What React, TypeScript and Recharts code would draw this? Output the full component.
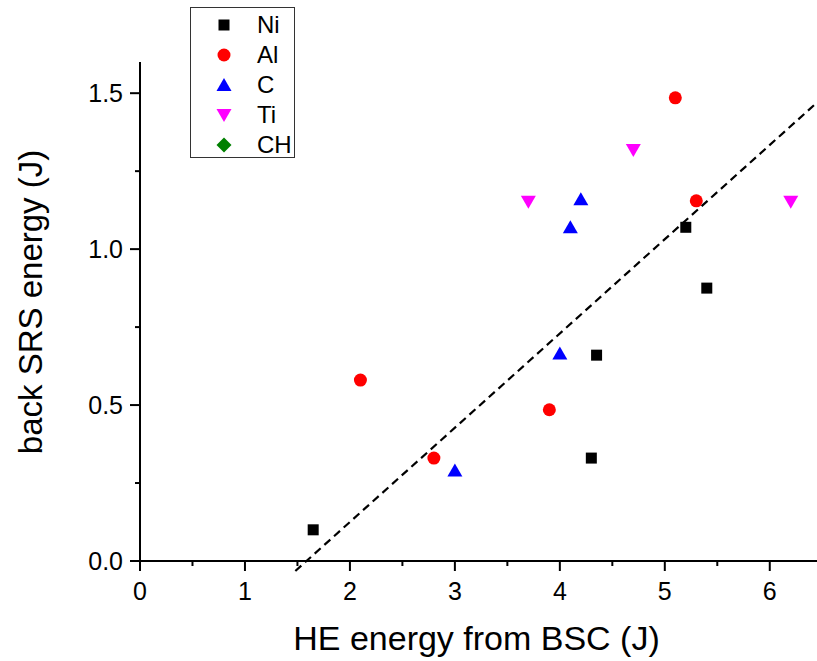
import { ScatterChart, Scatter, XAxis, YAxis, ReferenceLine } from "recharts";

// HE energy (x) vs back SRS energy (y), per target material
const niX = [1.65, 4.3, 4.35, 5.2, 5.4];
const niY = [0.1, 0.33, 0.66, 1.07, 0.875];
const alX = [2.1, 2.8, 3.9, 5.1, 5.3];
const alY = [0.58, 0.33, 0.485, 1.485, 1.155];
const cX = [3.0, 4.0, 4.1, 4.2];
const cY = [0.29, 0.665, 1.07, 1.16];
const tiX = [3.7, 4.7, 6.2];
const tiY = [1.152, 1.318, 1.152];
const chX: number[] = [];
const chY: number[] = [];

const xTicks = [0, 0.5, 1, 1.5, 2, 2.5, 3, 3.5, 4, 4.5, 5, 5.5, 6];
const yTicks = [0, 0.25, 0.5, 0.75, 1, 1.25, 1.5];
const fitStart = { x: 1.48, y: -0.032 };
const fitEnd = { x: 6.45, y: 1.47 };

const zip = (xs: number[], ys: number[]) => xs.map((x, i) => ({ x, y: ys[i] }));

const FONT = '"Liberation Sans", Arial, sans-serif';

const series = [
  { name: "Ni", data: zip(niX, niY), color: "#000000", kind: "square" },
  { name: "Al", data: zip(alX, alY), color: "#ff0000", kind: "circle" },
  { name: "C", data: zip(cX, cY), color: "#0000ff", kind: "up" },
  { name: "Ti", data: zip(tiX, tiY), color: "#ff00ff", kind: "down" },
  { name: "CH", data: zip(chX, chY), color: "#008000", kind: "diamond" },
];

function Marker({ kind, cx, cy, color }: { kind: string; cx: number; cy: number; color: string }) {
  if (kind === "square") return <rect x={cx - 5.5} y={cy - 5.5} width={11} height={11} fill={color} />;
  if (kind === "circle") return <circle cx={cx} cy={cy} r={6.5} fill={color} />;
  if (kind === "up") return <polygon points={`${cx - 7.5},${cy + 6} ${cx + 7.5},${cy + 6} ${cx},${cy - 7}`} fill={color} />;
  if (kind === "down") return <polygon points={`${cx - 7.5},${cy - 6} ${cx + 7.5},${cy - 6} ${cx},${cy + 7}`} fill={color} />;
  return <polygon points={`${cx},${cy - 7.5} ${cx + 7.5},${cy} ${cx},${cy + 7.5} ${cx - 7.5},${cy}`} fill={color} />;
}

function XTick(props: any) {
  const { x, y, payload } = props;
  const major = Number.isInteger(payload.value);
  return (
    <g>
      <line x1={x} x2={x} y1={y} y2={y + (major ? 10 : 5)} stroke="#000" strokeWidth={2} />
      {major && (
        <text x={x} y={y + 38.5} textAnchor="middle" fontSize={25} fontFamily={FONT} fill="#000">
          {payload.value}
        </text>
      )}
    </g>
  );
}

function YTick(props: any) {
  const { x, y, payload } = props;
  const major = Math.abs(payload.value * 2 - Math.round(payload.value * 2)) < 1e-6;
  return (
    <g>
      <line x1={x} x2={x - (major ? 10 : 5)} y1={y} y2={y} stroke="#000" strokeWidth={2} />
      {major && (
        <text x={x - 17} y={y} dy="0.36em" textAnchor="end" fontSize={25} fontFamily={FONT} fill="#000">
          {payload.value.toFixed(1)}
        </text>
      )}
    </g>
  );
}

export default function App() {
  return (
    <div style={{ position: "absolute", left: 0, top: 0, width: 817, height: 661, background: "#fff", fontFamily: FONT }}>
      <ScatterChart width={817} height={661} margin={{ top: 62, right: 0, bottom: 99, left: 139 }}>
        <XAxis
          type="number"
          dataKey="x"
          domain={[0, 6.45]}
          allowDataOverflow
          ticks={xTicks}
          interval={0}
          height={1}
          tickSize={0}
          tickMargin={0}
          tick={<XTick />}
          axisLine={{ stroke: "#000", strokeWidth: 2 }}
          tickLine={false}
        />
        <YAxis
          type="number"
          dataKey="y"
          domain={[0, 1.6]}
          allowDataOverflow
          ticks={yTicks}
          interval={0}
          width={1}
          tickSize={0}
          tickMargin={0}
          tick={<YTick />}
          axisLine={{ stroke: "#000", strokeWidth: 2 }}
          tickLine={false}
        />
        <ReferenceLine
          segment={[fitStart, fitEnd]}
          ifOverflow="visible"
          stroke="#000"
          strokeWidth={2.2}
          strokeDasharray="8 5"
        />
        {series.map((s) => (
          <Scatter
            key={s.name}
            name={s.name}
            data={s.data}
            fill={s.color}
            isAnimationActive={false}
            shape={(p: any) => <Marker kind={s.kind} cx={p.cx} cy={p.cy} color={s.color} />}
          />
        ))}
      </ScatterChart>

      <div
        style={{
          position: "absolute",
          left: 190,
          top: 7,
          width: 105,
          height: 151,
          border: "1px solid #333",
          boxSizing: "border-box",
        }}
      >
        {series.map((s, i) => (
          <div key={s.name} style={{ position: "absolute", left: 0, top: 2 + i * 30, height: 30, width: 104 }}>
            <svg width={30} height={30} style={{ position: "absolute", left: 18, top: 0 }}>
              <Marker kind={s.kind} cx={15} cy={15} color={s.color} />
            </svg>
            <span style={{ position: "absolute", left: 66, top: 1, fontSize: 24, lineHeight: "27px", color: "#000" }}>
              {s.name}
            </span>
          </div>
        ))}
      </div>

      <div
        style={{
          position: "absolute",
          left: 140,
          width: 677,
          top: 618,
          textAlign: "center",
          fontSize: 34,
          lineHeight: "40px",
          color: "#000",
          paddingRight: 4,
          boxSizing: "border-box",
        }}
      >
        HE energy from BSC (J)
      </div>
      <div
        style={{
          position: "absolute",
          left: 31,
          top: 302,
          transform: "translate(-50%, -50%) rotate(-90deg)",
          whiteSpace: "nowrap",
          fontSize: 33,
          lineHeight: "40px",
          color: "#000",
        }}
      >
        back SRS energy (J)
      </div>
    </div>
  );
}
